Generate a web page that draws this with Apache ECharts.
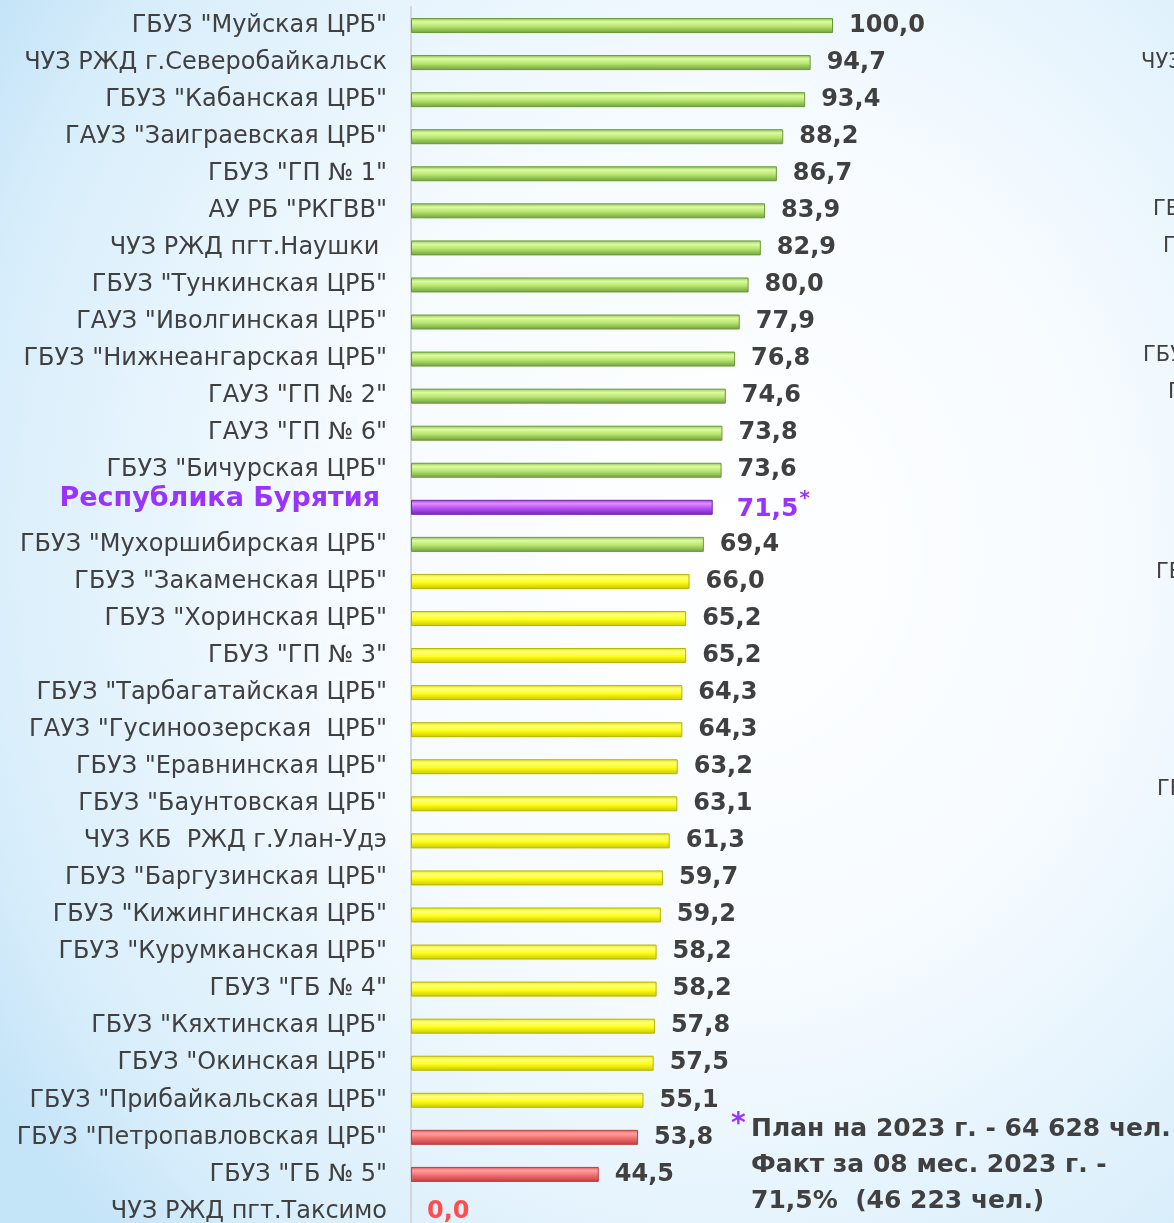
<!DOCTYPE html>
<html>
<head>
<meta charset="utf-8">
<script src="https://cdn.jsdelivr.net/npm/echarts@6/dist/echarts.min.js"></script>
<style>
  html, body { margin: 0; padding: 0; }
  body {
    width: 1174px; height: 1223px; overflow: hidden;
    background: radial-gradient(ellipse 75% 80% at 62% 45%, #ffffff 0%, #f6fbff 45%, #d9eefb 85%, #c4e4f8 100%);
  }
  #main { width: 1174px; height: 1223px; }
</style>
</head>
<body>
<div id="main"></div>
<script>
// organisations, top to bottom
const names = [
  'ГБУЗ "Муйская ЦРБ"',
  'ЧУЗ РЖД г.Северобайкальск',
  'ГБУЗ "Кабанская ЦРБ"',
  'ГАУЗ "Заиграевская ЦРБ"',
  'ГБУЗ "ГП № 1"',
  'АУ РБ "РКГВВ"',
  'ЧУЗ РЖД пгт.Наушки ',
  'ГБУЗ "Тункинская ЦРБ"',
  'ГАУЗ "Иволгинская ЦРБ"',
  'ГБУЗ "Нижнеангарская ЦРБ"',
  'ГАУЗ "ГП № 2"',
  'ГАУЗ "ГП № 6"',
  'ГБУЗ "Бичурская ЦРБ"',
  'Республика Бурятия',
  'ГБУЗ "Мухоршибирская ЦРБ"',
  'ГБУЗ "Закаменская ЦРБ"',
  'ГБУЗ "Хоринская ЦРБ"',
  'ГБУЗ "ГП № 3"',
  'ГБУЗ "Тарбагатайская ЦРБ"',
  'ГАУЗ "Гусиноозерская  ЦРБ"',
  'ГБУЗ "Еравнинская ЦРБ"',
  'ГБУЗ "Баунтовская ЦРБ"',
  'ЧУЗ КБ  РЖД г.Улан-Удэ',
  'ГБУЗ "Баргузинская ЦРБ"',
  'ГБУЗ "Кижингинская ЦРБ"',
  'ГБУЗ "Курумканская ЦРБ"',
  'ГБУЗ "ГБ № 4"',
  'ГБУЗ "Кяхтинская ЦРБ"',
  'ГБУЗ "Окинская ЦРБ"',
  'ГБУЗ "Прибайкальская ЦРБ"',
  'ГБУЗ "Петропавловская ЦРБ"',
  'ГБУЗ "ГБ № 5"',
  'ЧУЗ РЖД пгт.Таксимо'
];

// percent done
const values = [
  100.0, 94.7, 93.4, 88.2, 86.7, 83.9, 82.9, 80.0, 77.9, 76.8, 74.6, 73.8, 73.6,
  71.5, 69.4, 66.0, 65.2, 65.2, 64.3, 64.3, 63.2, 63.1, 61.3, 59.7, 59.2, 58.2,
  58.2, 57.8, 57.5, 55.1, 53.8, 44.5, 0.0
];

const REGION = 'Республика Бурятия';

const footnote = [
  'План на 2023 г. - 64 628 чел.',
  'Факт за 08 мес. 2023 г. -',
  '71,5%  (46 223 чел.)'
];

// cut off labels of the neighbouring chart at the right edge
const sideLabels = ['ЧУЗ', 'ГБУЗ', 'ГБУЗ', 'ГБУЗ', 'ГБУЗ', 'ГБУЗ', 'ГБУЗ'];

const FONT = '"DejaVu Sans", sans-serif';
const TXT = '#404040';

function grad(c0, c1, c2, c3) {
  return new echarts.graphic.LinearGradient(0, 0, 0, 1, [
    { offset: 0, color: c0 },
    { offset: 0.25, color: c1 },
    { offset: 0.55, color: c2 },
    { offset: 1, color: c3 }
  ]);
}

const styles = {
  green: { color: grad('#8fbf55', '#dcfca0', '#b8e670', '#6f9f3a'), borderColor: '#6a9a38' },
  yellow: { color: grad('#e6e600', '#ffff80', '#ffff1a', '#c8c800'), borderColor: '#b5b500' },
  red: { color: grad('#e05a5a', '#ffa0a0', '#f07070', '#c03c3c'), borderColor: '#b84040' },
  purple: { color: grad('#9a3fe0', '#e48cff', '#b454f5', '#7424b8'), borderColor: '#6e2aa8' }
};

function pick(name, v) {
  if (name === REGION) return styles.purple;
  if (v >= 67) return styles.green;
  if (v >= 55) return styles.yellow;
  return styles.red;
}

function fmt(v) {
  return v.toFixed(1).replace('.', ',');
}

const barData = values.map((v, i) => {
  const s = pick(names[i], v);
  const item = {
    value: v,
    itemStyle: { color: s.color, borderColor: s.borderColor, borderWidth: v > 0 ? 1 : 0 }
  };
  if (names[i] === REGION) {
    item.label = { distance: 24, formatter: '{p|' + fmt(v) + '}{s|*}' };
  } else if (v === 0) {
    item.label = { formatter: '{z|' + fmt(v) + '}' };
  }
  return item;
});

const chart = echarts.init(document.getElementById('main'), null, { renderer: 'canvas' });

const sideY = [62, 209, 246, 355, 392, 572, 789];
const sideX = [1141, 1153, 1163, 1143, 1168, 1156, 1157];

const graphics = sideLabels.map((t, i) => ({
  type: 'text',
  left: sideX[i],
  top: sideY[i] - 10,
  style: { text: t, font: '21px ' + FONT, fill: TXT }
}));

graphics.push({
  type: 'text',
  left: 731,
  top: 1111,
  style: { text: '*', font: 'bold 28px ' + FONT, fill: '#9933ff' }
});
graphics.push({
  type: 'text',
  left: 751,
  top: 1111,
  style: {
    text: footnote.join('\n'),
    font: 'bold 25px ' + FONT,
    fill: TXT,
    lineHeight: 36
  }
});

chart.setOption({
  animation: false,
  textStyle: { fontFamily: FONT },
  grid: { left: 411, top: 7, width: 422, height: 1223, outerBoundsMode: 'none' },
  xAxis: {
    type: 'value',
    min: 0,
    max: 100,
    show: false
  },
  yAxis: {
    type: 'category',
    inverse: true,
    data: names,
    axisLine: { show: true, lineStyle: { color: '#d4d8dc', width: 2 } },
    axisTick: { show: false },
    axisLabel: {
      margin: 24,
      fontSize: 24,
      color: TXT,
      fontFamily: FONT,
      formatter: (v) => (v === REGION ? '{r|' + v + '}' : v),
      rich: {
        r: {
          fontSize: 27,
          fontWeight: 'bold',
          color: '#9933ff',
          fontFamily: FONT,
          padding: [0, 7, 16, 0]
        }
      }
    }
  },
  series: [{
    type: 'bar',
    data: barData,
    barWidth: 15,
    label: {
      show: true,
      position: 'right',
      distance: 16,
      fontSize: 24,
      fontWeight: 'bold',
      color: TXT,
      fontFamily: FONT,
      formatter: (p) => fmt(p.value),
      rich: {
        p: { fontSize: 25, fontWeight: 'bold', color: '#9933ff', fontFamily: FONT, padding: [4, 0, 0, 0] },
        s: { fontSize: 20, fontWeight: 'bold', color: '#9933ff', fontFamily: FONT, padding: [0, 0, 18, 1] },
        z: { fontSize: 24, color: '#ff4d4d', fontFamily: FONT }
      }
    }
  }],
  graphic: graphics
});
</script>
</body>
</html>
